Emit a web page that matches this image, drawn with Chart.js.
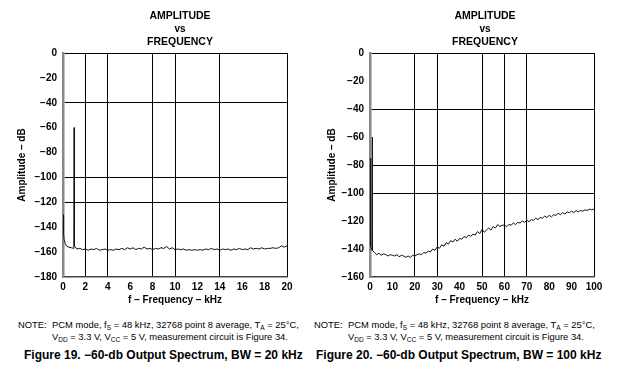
<!DOCTYPE html>
<html>
<head>
<meta charset="utf-8">
<script src="https://cdn.jsdelivr.net/npm/chart.js@4/dist/chart.umd.min.js"></script>
<style>
  body { margin: 0; background: #fff; width: 620px; height: 375px; position: relative; overflow: hidden;
         font-family: "Liberation Sans", Arial, sans-serif; color: #000; }
  canvas { position: absolute; top: 0; }
  .t { position: absolute; width: 200px; text-align: center; font-weight: bold; line-height: 1; }
  .note { position: absolute; font-size: 9.4px; line-height: 12px; white-space: nowrap; }
  .note span.l { display: inline-block; width: 34px; }
  .note sub { font-size: 6.5px; vertical-align: -2px; line-height: 0; }
  .cap { position: absolute; font-weight: bold; font-size: 12px; white-space: nowrap; top: 348px; }
</style>
</head>
<body>
<canvas id="c20" width="310" height="310" style="left:0"></canvas>
<canvas id="c100" width="310" height="310" style="left:310px"></canvas>

<div class="t" style="left:80px;top:10px;font-size:10.5px">AMPLITUDE</div>
<div class="t" style="left:80px;top:24px;font-size:10px">vs</div>
<div class="t" style="left:80px;top:36px;font-size:10.5px">FREQUENCY</div>
<div class="t" style="left:385px;top:10px;font-size:10.5px">AMPLITUDE</div>
<div class="t" style="left:385px;top:24px;font-size:10px">vs</div>
<div class="t" style="left:385px;top:36px;font-size:10.5px">FREQUENCY</div>

<div class="note" style="left:18px;top:319px"><span class="l">NOTE:</span>PCM mode, f<sub>S</sub> = 48 kHz, 32768 point 8 average, T<sub>A</sub> = 25°C,<br><span class="l"></span>V<sub>DD</sub> = 3.3 V, V<sub>CC</sub> = 5 V, measurement circuit is Figure 34.</div>
<div class="note" style="left:314px;top:319px"><span class="l">NOTE:</span>PCM mode, f<sub>S</sub> = 48 kHz, 32768 point 8 average, T<sub>A</sub> = 25°C,<br><span class="l"></span>V<sub>DD</sub> = 3.3 V, V<sub>CC</sub> = 5 V, measurement circuit is Figure 34.</div>
<div class="cap" style="left:24px">Figure 19. −60-db Output Spectrum, BW = 20 kHz</div>
<div class="cap" style="left:316px">Figure 20. −60-db Output Spectrum, BW = 100 kHz</div>

<script>
// Figure 19 (BW = 20 kHz) - frequency in kHz, amplitude in dB
const freq20 = [0, 0.05, 0.1, 0.2, 0.3, 0.5, 0.75, 0.97, 1.0, 1.02,
  1.25, 1.5, 1.75, 2.0, 2.25, 2.5, 2.75, 3.0, 3.25, 3.5, 3.75, 4.0, 4.25, 4.5, 4.75,
  5.0, 5.25, 5.5, 5.75, 6.0, 6.25, 6.5, 6.75, 7.0, 7.25, 7.5, 7.75, 8.0, 8.25, 8.5, 8.75,
  9.0, 9.25, 9.5, 9.75, 10.0, 10.25, 10.5, 10.75, 11.0, 11.25, 11.5, 11.75, 12.0, 12.25,
  12.5, 12.75, 13.0, 13.25, 13.5, 13.75, 14.0, 14.25, 14.5, 14.75, 15.0, 15.25, 15.5, 15.75,
  16.0, 16.25, 16.5, 16.75, 17.0, 17.25, 17.5, 17.75, 18.0, 18.25, 18.5, 18.75, 19.0,
  19.25, 19.5, 19.75, 20.0];
const level20 = [-130, -145, -150, -153, -155, -156, -156.5, -157, -60, -155,
  -157.5, -157, -158, -157.5, -158.5, -157.5, -158, -157, -158.5, -158, -157.5, -158.5, -158, -158.5, -157.5,
  -158, -157, -158, -156.5, -157.5, -156.5, -158, -157, -157.5, -156, -157.5, -157, -158, -157, -157.5, -156.5,
  -157, -155.5, -157.5, -156.5, -158, -157.5, -158, -157.5, -158.5, -158, -158.5, -158, -158.5, -158,
  -158.5, -157.5, -158, -157, -158, -157.5, -158.5, -157.5, -158, -157.5, -158.5, -157.5, -158, -157,
  -158, -157.5, -158, -156.5, -157.5, -157, -157.5, -156.5, -157.5, -157, -157, -156.5, -157,
  -156.5, -155, -156, -155];

// Figure 20 (BW = 100 kHz)
const freq100 = [0, 0.3, 0.9, 1.0, 1.1,
  2, 3, 4, 5, 6, 7, 8, 9, 10, 11, 12, 13, 14, 15, 16, 17, 18, 19, 20,
  21, 22, 23, 24, 25, 26, 27, 28, 29, 30, 31, 32, 33, 34, 35, 36, 37, 38, 39, 40,
  41, 42, 43, 44, 45, 46, 47, 48, 49, 50, 51, 52, 53, 54, 55, 56, 57, 58, 59, 60,
  61, 62, 63, 64, 65, 66, 67, 68, 69, 70, 71, 72, 73, 74, 75, 76, 77, 78, 79, 80,
  81, 82, 83, 84, 85, 86, 87, 88, 89, 90, 91, 92, 93, 94, 95, 96, 97, 98, 99, 100];
const level100 = [-75, -138, -141, -60, -141,
  -142.5, -144, -143, -144.5, -143.5, -144, -145, -144, -144.5, -145, -144, -145.5, -144.5, -145, -146, -145, -146, -144.5, -145,
  -144, -143.5, -144, -142.5, -143, -141.5, -142, -140, -141, -138.5, -139.5, -137, -138, -135.5, -136.5, -134, -135, -133, -134.5, -132.5,
  -133, -131, -132, -130, -131, -129.5, -130, -127.5, -129, -126, -128, -126.5, -125, -126.5, -124, -125, -122.5, -124, -123, -123,
  -124, -122.5, -123, -121.5, -122.5, -121, -121.5, -120, -121, -119.5, -120.5, -119, -119.5, -118, -119, -117.5, -118, -116.5, -117.5, -116,
  -117, -115.5, -116, -114.5, -115.5, -114, -115, -113.5, -114, -113, -114, -112.5, -113.5, -112.5, -113, -112, -112.5, -111.5, -112, -111.5];

// grid lines that survive on the printed page
const xGrid20 = [2, 4, 8, 10, 14, 20];
const yGrid20 = [0, -40, -100, -120];
const xGrid100 = [20, 30, 50, 60, 70, 100];
const yGrid100 = [0, -40, -80, -100];

const bold10 = { family: '"Liberation Sans", Arial, sans-serif', size: 10, weight: 'bold' };

function minus(v) {
    return v < 0 ? '\u2212' + Math.abs(v) : String(v);
}

function makeChart(id, xs, ys, xMax, xStep, yMin, xGrid, yGrid, rightPad, leftW) {
    const ctx = document.getElementById(id).getContext('2d');
    return new Chart(ctx, {
        type: 'line',
        data: {
            datasets: [{
                data: xs.map((x, i) => ({ x: x, y: ys[i] })),
                borderColor: '#111',
                borderWidth: 1,
                pointRadius: 0,
                tension: 0
            }]
        },
        options: {
            responsive: false,
            animation: false,
            layout: { padding: { top: 53, right: rightPad, left: 0, bottom: 0 } },
            plugins: { legend: { display: false }, tooltip: { enabled: false } },
            scales: {
                x: {
                    type: 'linear',
                    min: 0, max: xMax,
                    afterFit: s => { s.height = 33; },
                    ticks: { stepSize: xStep, font: bold10, color: '#000', padding: 4, maxRotation: 0 },
                    grid: {
                        drawTicks: false,
                        lineWidth: 1,
                        color: c => (c.tick && xGrid.includes(c.tick.value)) ? '#000' : 'rgba(0,0,0,0)'
                    },
                    border: { color: '#444', width: 1.5 },
                    title: { display: true, text: 'f \u2013 Frequency \u2013 kHz', font: bold10, color: '#000', padding: { top: 0, bottom: 4 } }
                },
                y: {
                    min: yMin, max: 0,
                    afterFit: s => { s.width = leftW; },
                    ticks: { stepSize: 20, font: bold10, color: '#000', padding: 6, callback: v => minus(v) },
                    grid: {
                        drawTicks: false,
                        lineWidth: 1,
                        color: c => (c.tick && yGrid.includes(c.tick.value)) ? '#000' : 'rgba(0,0,0,0)'
                    },
                    border: { color: '#888', width: 2.5 },
                    title: { display: true, text: 'Amplitude \u2013 dB', font: bold10, color: '#000', padding: { top: 16, bottom: 0 } }
                }
            }
        }
    });
}

makeChart('c20', freq20, level20, 20, 2, -180, xGrid20, yGrid20, 23, 63);
makeChart('c100', freq100, level100, 100, 10, -160, xGrid100, yGrid100, 26, 60);
</script>
</body>
</html>
